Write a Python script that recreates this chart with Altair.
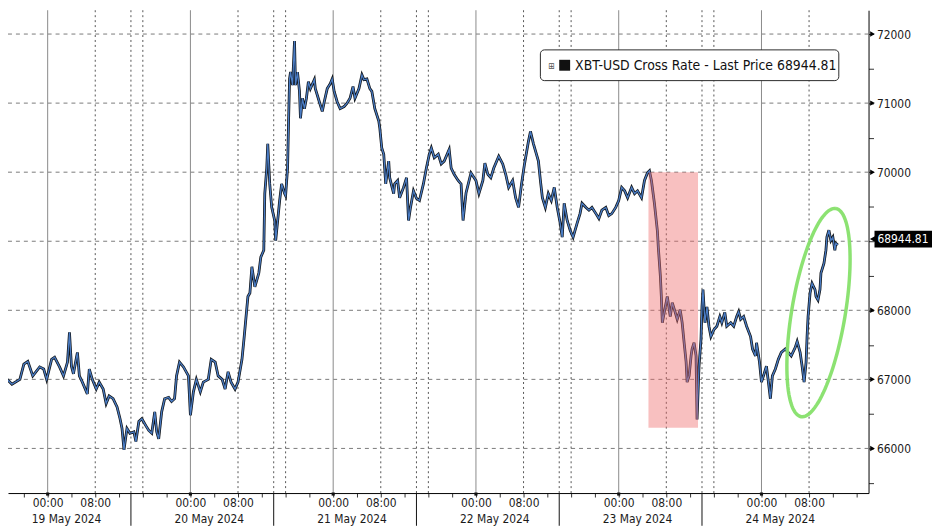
import altair as alt
import pandas as pd
import numpy as np

# ---------------- data ----------------
SERIES_NAME = "XBT-USD Cross Rate"
LAST_PRICE = 68944.81

# minutes after 2024-05-18 16:00
minutes = [0, 50, 120, 200, 240, 280, 330, 400, 440, 470, 520, 550, 600, 640, 680, 700, 720, 740,
           780, 800, 830, 880, 900, 930, 970, 1000, 1040, 1070, 1100, 1140, 1180, 1210, 1230, 1250,
           1280, 1310, 1350, 1370, 1400, 1430, 1470, 1500, 1530, 1560, 1580, 1600, 1630, 1660, 1700,
           1730, 1760, 1780, 1810, 1850, 1900, 1920, 1950, 1980, 2020, 2050, 2100, 2130, 2170, 2200,
           2240, 2270, 2300, 2330, 2370, 2400, 2440, 2460, 2480, 2500, 2520, 2540, 2570, 2610, 2630,
           2660, 2670, 2690, 2700, 2720, 2740, 2770, 2780, 2800, 2820, 2840, 2870, 2880, 2900, 2910,
           2920, 2930, 2950, 2970, 2980, 3000, 3020, 3030, 3050, 3070, 3090, 3110, 3130, 3170, 3180,
           3220, 3250, 3270, 3300, 3330, 3350, 3370, 3400, 3430, 3470, 3500, 3530, 3560, 3580, 3620,
           3650, 3670, 3700, 3730, 3750, 3780, 3820, 3830, 3850, 3870, 3890, 3920, 3930, 3970, 3980,
           4010, 4030, 4070, 4100, 4120, 4140, 4170, 4200, 4230, 4270, 4300, 4330, 4350, 4380, 4420,
           4450, 4480, 4530, 4550, 4580, 4620, 4650, 4670, 4700, 4750, 4800, 4830, 4870, 4890, 4920,
           4950, 4980, 5030, 5070, 5100, 5130, 5170, 5200, 5230, 5260, 5290, 5330, 5350, 5380, 5410,
           5430, 5450, 5470, 5500, 5530, 5560, 5590, 5620, 5650, 5670, 5690, 5720, 5750, 5780, 5820,
           5850, 5870, 5910, 5940, 5970, 6010, 6040, 6070, 6110, 6140, 6170, 6210, 6240, 6270, 6300,
           6330, 6370, 6400, 6430, 6470, 6500, 6530, 6550, 6570, 6600, 6630, 6640, 6660, 6670, 6680,
           6710, 6730, 6760, 6780, 6810, 6830, 6860, 6880, 6900, 6920, 6930, 6950, 6970, 6980, 7000,
           7020, 7030, 7050, 7070, 7080, 7090, 7110, 7130, 7150, 7170, 7200, 7230, 7260, 7280, 7310,
           7330, 7370, 7400, 7430, 7450, 7470, 7500, 7530, 7570, 7590, 7620, 7630, 7660, 7680, 7700,
           7730, 7750, 7770, 7790, 7820, 7850, 7880, 7920, 7950, 7980, 8020, 8040, 8070, 8090, 8110,
           8130, 8140, 8150, 8170, 8190, 8220, 8230, 8250, 8270, 8280, 8310, 8330, 8340, 8360, 8380,
           8400, 8420, 8430, 8450]
prices = [66990, 67030, 66930, 67000, 67220, 67260, 67050, 67180, 67150, 67000, 67290, 67320, 67180,
          67050, 67250, 67680, 67190, 67080, 67390, 67050, 66960, 66790, 67150, 67000, 66860, 66960,
          66860, 66650, 66760, 66720, 66600, 66430, 66290, 65980, 66290, 66220, 66240, 66100, 66390,
          66430, 66330, 66260, 66220, 66530, 66240, 66140, 66530, 66720, 66740, 66680, 66720, 67050,
          67250, 67180, 67050, 66480, 66820, 67000, 66820, 66960, 67000, 67290, 67250, 67050, 67000,
          66860, 67110, 66960, 66860, 66960, 67290, 67580, 67890, 68200, 68250, 68630, 68340, 68540,
          68770, 68870, 69690, 70060, 70410, 69830, 69490, 69300, 69010, 69300, 69590, 69830, 69690,
          69660, 70060, 70740, 71350, 71450, 71260, 71900, 71260, 71450, 71170, 70780, 71070, 70920,
          71070, 71310, 71210, 71340, 71210, 71020, 70880, 71020, 71210, 71280, 71350, 71170, 71020,
          70920, 70950, 71000, 71070, 71240, 71070, 71210, 71410, 71340, 71350, 71210, 71170, 70920,
          70740, 70640, 70350, 70260, 69830, 70160, 69920, 69690, 69830, 69880, 69630, 69780, 69920,
          69300, 69490, 69730, 69620, 69590, 69830, 70060, 70260, 70350, 70210, 70260, 70120, 70160,
          70330, 70060, 69970, 69880, 69830, 69300, 69700, 69990, 69880, 69690, 69880, 70130, 69970,
          69920, 70060, 70230, 70120, 69970, 69780, 69880, 69630, 69490, 69830, 70120, 70450, 70590,
          70410, 70260, 70160, 69880, 69630, 69490, 69690, 69590, 69780, 69490, 69260, 69060, 69550,
          69300, 69160, 69060, 69260, 69400, 69550, 69490, 69450, 69490, 69400, 69330, 69450, 69490,
          69370, 69400, 69490, 69590, 69780, 69730, 69630, 69780, 69690, 69730, 69630, 69880, 69990,
          70020, 69880, 69550, 69150, 68900, 68500, 68200, 67820, 68050, 68200, 67910, 68110, 67970,
          67870, 68010, 67820, 67530, 67250, 66960, 67050, 67340, 67440, 67530, 67340, 66420, 67190,
          67580, 68050, 68300, 67820, 68050, 67770, 67620, 67720, 67770, 67910, 67820, 67970, 67770,
          67820, 67770, 67910, 67980, 67870, 67910, 67770, 67620, 67440, 67340, 67530, 67250, 66960,
          67050, 67190, 66960, 66720, 67050, 67150, 67290, 67390, 67440, 67390, 67340, 67460, 67550,
          67390, 67190, 66960, 67250, 67620, 67910, 68250, 68390, 68300, 68200, 68150, 68300, 68540,
          68680, 68870, 69060, 69160, 69010, 69060, 68870, 68970, 68944.81]

day_label_days = [19, 20, 21, 22, 23, 24]
day_labels = ["19 May 2024", "20 May 2024", "21 May 2024", "22 May 2024", "23 May 2024", "24 May 2024"]
y_major = [66000, 67000, 68000, 69000, 70000, 71000, 72000]

# highlighted sell-off window (pink box) and rebound (green ellipse)
box_start, box_end = "2024-05-23 05:00", "2024-05-23 13:20"
box_top, box_bottom = 70000, 66300
ell_center_time, ell_center_price = "2024-05-24 09:35", 67967
ell_major = (2.92, 1507)   # (hours, price) half-axis
ell_minor = (4.44, -63)    # (hours, price) half-axis

# ---------------- frames ----------------
START = pd.Timestamp("2024-05-18 16:00")
df = pd.DataFrame({"t": START + pd.to_timedelta(minutes, unit="min"), "p": prices})

W, H = 868, 487
FONT = "DejaVu Sans Condensed, DejaVu Sans"
x_dom = [alt.DateTime(year=2024, month=5, date=18, hours=17, minutes=20),
         alt.DateTime(year=2024, month=5, date=24, hours=18)]
y_dom = [65354, 72345]
xs = alt.Scale(domain=x_dom)
ys = alt.Scale(domain=y_dom, nice=False, zero=False)

vg = []
for d in range(19, 25):
    vg.append({"t": pd.Timestamp(2024, 5, d, 0), "k": "solid"})
    vg.append({"t": pd.Timestamp(2024, 5, d, 8), "k": "dot"})
for d in range(18, 24):
    if d > 18:
        vg.append({"t": pd.Timestamp(2024, 5, d, 14), "k": "dot"})
    vg.append({"t": pd.Timestamp(2024, 5, d, 16), "k": "dot"})
vg = pd.DataFrame(vg)
seps = pd.DataFrame({"t": [pd.Timestamp(2024, 5, d, 14) for d in range(19, 24)]})
midn = pd.DataFrame({"t": [pd.Timestamp(2024, 5, d, 0) for d in range(19, 25)]})
dlab = pd.DataFrame({"t": [pd.Timestamp(2024, 5, d, 3, 10) for d in day_label_days], "lab": day_labels})

x_ticks = [alt.DateTime(year=2024, month=5, date=18 + (h // 24), hours=h % 24)
           for h in range(20, 24 * 6 + 17, 4)]

ang = np.linspace(0, 2 * np.pi, 121)
ct = pd.Timestamp(ell_center_time)
ell = pd.DataFrame({
    "i": np.arange(len(ang)),
    "t": ct + pd.to_timedelta(ell_major[0] * np.cos(ang) + ell_minor[0] * np.sin(ang), unit="h"),
    "p": ell_center_price + ell_major[1] * np.cos(ang) + ell_minor[1] * np.sin(ang),
})
box = pd.DataFrame({"t1": [pd.Timestamp(box_start)], "t2": [pd.Timestamp(box_end)],
                    "p1": [box_top], "p2": [box_bottom]})
hg = pd.DataFrame({"p": y_major})
# major ticks whose label is covered by the last-price tag
hg_tri = pd.DataFrame({"p": [v for v in y_major if abs(v - LAST_PRICE) > 300]})
last = pd.DataFrame({"p": [LAST_PRICE], "lab": [f"{LAST_PRICE:.2f}"]})
legend_txt = pd.DataFrame({"lab": [f"{SERIES_NAME} - Last Price {LAST_PRICE:.2f}"]})

# ---------------- axes (shared by every layer) ----------------
x_axis = alt.Axis(values=x_ticks, title=None, grid=False, tickSize=4, tickColor="#333",
                  domainColor="#000", domainWidth=1,
                  labelExpr="(hours(datum.value) == 0 || hours(datum.value) == 8) ? timeFormat(datum.value, '%H:%M') : ''",
                  labelFont=FONT, labelFontSize=12, labelColor="#1a1a1a", labelPadding=1,
                  labelOverlap=False, labelFlush=False)
y_axis = alt.Axis(orient="right", values=list(range(65500, 72001, 500)), title=None, grid=False,
                  tickSize=5, tickColor="#333", domainColor="#000", domainWidth=1,
                  labelExpr=f"(datum.value % 1000 == 0 && abs(datum.value - {LAST_PRICE}) > 300) ? format(datum.value, 'd') : ''",
                  labelFont=FONT, labelFontSize=12, labelColor="#1a1a1a", labelPadding=3)


def X(f):
    return alt.X(f, scale=xs, axis=x_axis, title=None)


def Y(f):
    return alt.Y(f, scale=ys, axis=y_axis, title=None)


# ---------------- layers ----------------
hgrid = alt.Chart(hg).mark_rule(color="#7a7a7a", strokeDash=[4, 4], strokeWidth=1).encode(y=Y("p:Q"))
vsolid = alt.Chart(vg).transform_filter("datum.k == 'solid'").mark_rule(
    color="#8a8a8a", strokeWidth=1).encode(x=X("t:T"))
vdot = alt.Chart(vg).transform_filter("datum.k == 'dot'").mark_rule(
    color="#555555", strokeDash=[2, 3], strokeWidth=1).encode(x=X("t:T"))

line_dark = alt.Chart(df).mark_line(color="#101418", strokeWidth=2.8, clip=True).encode(
    x=X("t:T"), y=Y("p:Q"))
line_blue = alt.Chart(df).mark_line(color="#4a7cc4", strokeWidth=1.3, clip=True).encode(
    x=X("t:T"), y=Y("p:Q"))

pink = alt.Chart(box).mark_rect(color="#ee6a6a", opacity=0.42).encode(
    x=X("t1:T"), x2="t2:T", y=Y("p1:Q"), y2="p2:Q")

ellipse = alt.Chart(ell).mark_line(color="#86e06a", strokeWidth=3.5, opacity=0.95).encode(
    x=X("t:T"), y=Y("p:Q"), order=alt.Order("i:Q"))

leg_box = alt.Chart(legend_txt).mark_rect(fill="white", stroke="#2a2a2a", strokeWidth=1,
                                          cornerRadius=4).encode(
    x=alt.value(537), x2=alt.value(838), y=alt.value(40), y2=alt.value(71))
leg_plus = alt.Chart(legend_txt).mark_text(text="⊞", font=FONT, fontSize=9, color="#555",
                                           align="center", baseline="middle").encode(
    x=alt.value(548), y=alt.value(56))
leg_sq = alt.Chart(legend_txt).mark_rect(color="#111").encode(
    x=alt.value(556), x2=alt.value(567), y=alt.value(50), y2=alt.value(61))
leg_text = alt.Chart(legend_txt).mark_text(font=FONT, fontSize=14, color="#111", align="left",
                                           baseline="middle").encode(
    x=alt.value(572), y=alt.value(56), text="lab:N")

tri = alt.Chart(hg_tri).mark_point(shape="triangle-right", filled=True, color="#000", size=30,
                                   opacity=1).encode(x=alt.value(W + 4), y=Y("p:Q"))

last_rule = alt.Chart(last).mark_rule(color="#000", strokeWidth=17, yOffset=-6).encode(
    x=alt.value(W + 6), x2=alt.value(W + 64), y=Y("p:Q"))
last_tri = alt.Chart(last).mark_point(shape="triangle-left", filled=True, color="#000", size=70,
                                      opacity=1, yOffset=-6).encode(x=alt.value(W + 5), y=Y("p:Q"))
last_text = alt.Chart(last).mark_text(font=FONT, fontSize=12, color="white", align="left",
                                      baseline="middle", yOffset=-6).encode(
    x=alt.value(W + 9), y=Y("p:Q"), text="lab:N")

sep = alt.Chart(seps).mark_rule(color="#111", strokeWidth=1).encode(
    x=X("t:T"), y=alt.value(H), y2=alt.value(H + 33))
msq = alt.Chart(midn).mark_square(color="#111", size=10, opacity=1).encode(
    x=X("t:T"), y=alt.value(H + 1))
dtext = alt.Chart(dlab).mark_text(font=FONT, fontSize=12, color="#1a1a1a", align="center",
                                  baseline="middle").encode(
    x=X("t:T"), y=alt.value(H + 26), text="lab:N")

chart = alt.layer(
    hgrid, vsolid, vdot, line_dark, line_blue, pink, ellipse,
    leg_box, leg_plus, leg_sq, leg_text, tri, last_rule, last_tri, last_text,
    sep, msq, dtext
).properties(
    width=W, height=H,
    autosize=alt.AutoSizeParams(type="none"),
    padding={"left": 0, "top": 0, "right": 64, "bottom": 33},
    background="white",
).configure_view(stroke=None)

chart.save("out.html", embed_options={"renderer": "svg", "actions": False})
